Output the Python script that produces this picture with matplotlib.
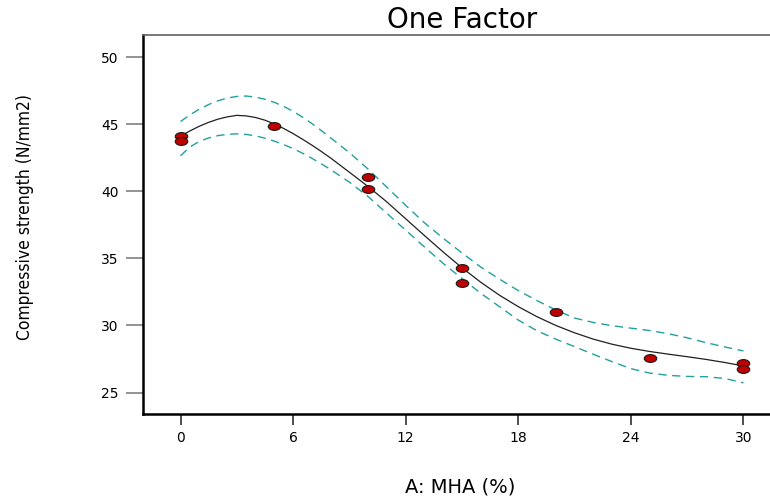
import numpy as np
import matplotlib
matplotlib.use("Agg")
import matplotlib.pyplot as plt
from matplotlib.path import Path
from matplotlib.transforms import Affine2D

# measured runs
mha_pts = [0, 0, 5, 10, 10, 15, 15, 20, 25, 30, 30]
strength_pts = [44.15, 43.75, 44.85, 41.05, 40.15, 34.25, 33.2, 31.0, 27.6, 27.2, 26.75]

# model prediction and 95% CI band
# (half-percent steps over the bend near the peak, whole percent after)
mha_grid = [0, 0.5, 1, 1.5, 2, 2.5, 3, 3.5, 4, 4.5, 5, 5.5, 6, 6.5, 7, 7.5, 8,
            9, 10, 11, 12, 13, 14, 15, 16, 17, 18, 19, 20,
            21, 22, 23, 24, 25, 26, 27, 28, 29, 30]
fit = [44.1, 44.5, 44.85, 45.14, 45.38, 45.55, 45.66, 45.62, 45.5, 45.3,
       45.02, 44.68, 44.3, 43.88, 43.44, 42.97, 42.48,
       41.42, 40.35, 39.2, 37.95, 36.7, 35.47, 34.3, 33.22, 32.25, 31.4, 30.65, 30.0,
       29.45, 28.98, 28.6, 28.3, 28.06, 27.86, 27.67, 27.47, 27.24, 26.98]
ci_upper = [45.2, 45.7, 46.12, 46.47, 46.75, 46.95, 47.07, 47.1, 47.02, 46.86,
            46.63, 46.33, 45.96, 45.53, 45.05, 44.53, 43.98,
            42.88, 41.65, 40.3, 38.95, 37.65, 36.5, 35.4, 34.35, 33.45, 32.6, 31.85, 31.15,
            30.55, 30.22, 29.98, 29.8, 29.62, 29.38, 29.08, 28.72, 28.4, 28.1]
ci_lower = [42.65, 43.3, 43.72, 43.98, 44.15, 44.25, 44.28, 44.24, 44.13, 43.96,
            43.74, 43.48, 43.18, 42.84, 42.46, 42.05, 41.62,
            40.68, 39.6, 38.35, 37.1, 35.85, 34.62, 33.5, 32.4, 31.4, 30.4, 29.6, 28.98,
            28.42, 27.85, 27.3, 26.78, 26.45, 26.28, 26.2, 26.18, 26.05, 25.72]

x_ticks = [0, 6, 12, 18, 24, 30]
y_ticks = [25, 30, 35, 40, 45, 50]

fig = plt.figure(figsize=(7.7, 4.98), dpi=100)
ax = fig.add_axes([143 / 770, 1 - 414 / 498, 638 / 770, 379 / 498])

band_col = "#22a0a0"
ax.plot(mha_grid, ci_upper, color=band_col, lw=1.0, dashes=(6, 4), zorder=2)
ax.plot(mha_grid, ci_lower, color=band_col, lw=1.0, dashes=(6, 4), zorder=2)
ax.plot(mha_grid, fit, color="#202020", lw=0.9, zorder=3)

# wide ellipse marker
ellipse = Path.unit_circle().transformed(Affine2D().scale(1.6, 1.0))
ax.plot(mha_pts, strength_pts, ls="none", marker=ellipse, ms=9.0,
        mfc="#c00000", mec="#1a1a1a", mew=0.8, zorder=4)

ax.set_xlim(-2, 32)
ax.set_ylim(23.4, 51.65)
ax.set_xticks(x_ticks)
ax.set_yticks(y_ticks)

for s in ["left", "bottom"]:
    ax.spines[s].set_linewidth(1.8)
    ax.spines[s].set_color("black")
ax.spines["top"].set_linewidth(1.2)
ax.spines["top"].set_color("#606060")
ax.spines["right"].set_visible(False)

ax.tick_params(axis="x", direction="out", length=8, width=1.2, color="#303030",
               pad=4, labelsize=10)
ax.tick_params(axis="y", direction="out", length=12.5, width=1.3, color="#8a8a8a",
               pad=5, labelsize=10)

ax.set_title("One Factor", fontsize=20, pad=5)
ax.set_xlabel("A: MHA (%)", fontsize=14)
ax.xaxis.set_label_coords(0.497, -0.193)
ax.xaxis.label.set_va("center")
ax.set_ylabel("Compressive strength (N/mm2)", fontsize=12.5,
              family="DejaVu Sans", fontstretch="condensed")
ax.yaxis.set_label_coords(-0.185, 0.52)
ax.yaxis.label.set_va("center")

fig.savefig("out.png", dpi=100)
